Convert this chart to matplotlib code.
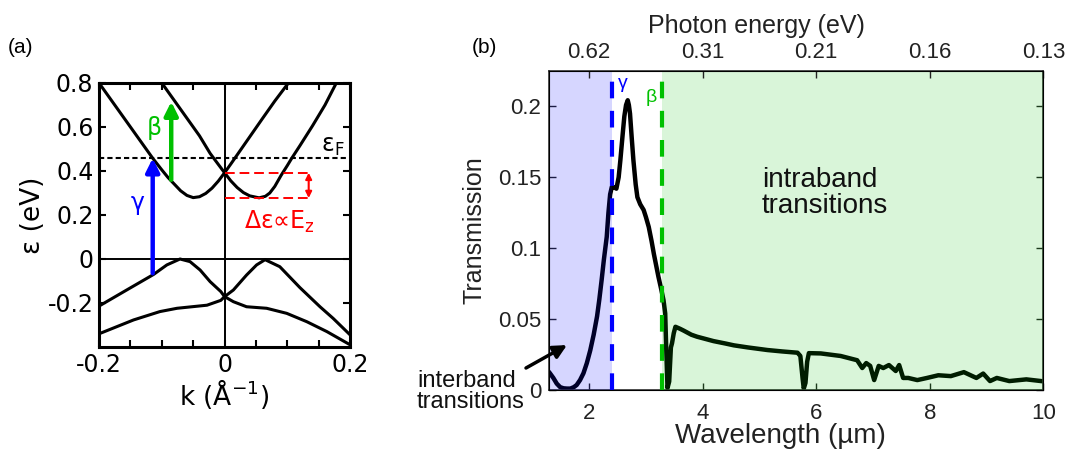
import matplotlib
matplotlib.use("Agg")
import matplotlib.pyplot as plt

plt.rcParams['mathtext.default'] = 'regular'

# ---- panel (a): bands (k in 1/A, energy in eV) ----
band1_k = [-0.2, -0.175, -0.15, -0.13, -0.1145, -0.1, -0.09, -0.08, -0.07, -0.06, -0.05,
           -0.04, -0.03, -0.02, -0.01, 0.0, 0.01, 0.02, 0.04, 0.06, 0.08, 0.1017]
band1_e = [0.80, 0.70, 0.60, 0.52, 0.458, 0.405, 0.37, 0.34, 0.31, 0.289, 0.279,
           0.283, 0.298, 0.322, 0.354, 0.392, 0.432, 0.473, 0.555, 0.637, 0.718, 0.80]

band2_k = [-0.1, -0.08, -0.06, -0.04, -0.023, -0.01, 0.0, 0.01, 0.02, 0.03, 0.04, 0.055,
           0.065, 0.072, 0.08, 0.09, 0.1, 0.107, 0.12, 0.14, 0.16, 0.178]
band2_e = [0.80, 0.72, 0.64, 0.56, 0.48, 0.43, 0.392, 0.355, 0.325, 0.302, 0.287, 0.278,
           0.285, 0.30, 0.33, 0.38, 0.425, 0.458, 0.515, 0.605, 0.70, 0.80]

# valence bands
val1_k = [-0.2, -0.156, -0.113, -0.092, -0.071, -0.055, -0.039, -0.023, -0.006, 0.0,
          0.014, 0.035, 0.067, 0.099, 0.131, 0.163, 0.2]
val1_e = [-0.214, -0.141, -0.07, -0.027, 0.0, -0.012, -0.05, -0.103, -0.148, -0.171,
          -0.194, -0.217, -0.224, -0.247, -0.285, -0.33, -0.39]
val2_k = [-0.2, -0.145, -0.103, -0.0757, -0.028, -0.006, 0.0, 0.014, 0.035, 0.051,
          0.0645, 0.088, 0.12, 0.152, 0.173, 0.2]
val2_e = [-0.34, -0.277, -0.239, -0.224, -0.21, -0.188, -0.171, -0.141, -0.073, -0.027,
          -0.003, -0.035, -0.13, -0.217, -0.27, -0.345]

fermi = 0.458
gamma_k, gamma_from, gamma_to = -0.1145, -0.065, 0.458
beta_k, beta_from, beta_to = -0.085, 0.36, 0.715
split_top, split_bot = 0.392, 0.277

# ---- panel (b): transmission spectrum ----
wavelength = [1.31, 1.37, 1.43, 1.49, 1.55, 1.61, 1.67, 1.73, 1.78, 1.84, 1.90, 1.96, 2.02,
              2.08, 2.14, 2.18, 2.22, 2.26, 2.31, 2.34, 2.37, 2.40, 2.44, 2.48, 2.52, 2.55,
              2.59, 2.62, 2.65, 2.68, 2.70, 2.72, 2.75, 2.78, 2.82, 2.85, 2.90, 2.96, 3.00,
              3.05, 3.10, 3.14, 3.18, 3.22, 3.27, 3.31, 3.34, 3.355, 3.38, 3.41, 3.44, 3.46,
              3.49, 3.52, 3.60, 3.66, 3.80, 3.90, 4.05, 4.19, 4.40, 4.55, 4.80, 5.14, 5.40,
              5.67, 5.72, 5.76, 5.78, 5.81, 5.84, 5.87, 6.08, 6.43, 6.72, 6.81, 6.88, 6.95,
              7.02, 7.10, 7.18, 7.28, 7.40, 7.46, 7.53, 7.62, 7.78, 7.95, 8.15, 8.37, 8.60,
              8.82, 8.94, 9.06, 9.18, 9.40, 9.70, 9.96]
transmission = [0.0118, 0.0085, 0.0045, 0.002, 0.0012, 0.001, 0.001, 0.002, 0.0035, 0.007,
                 0.0118, 0.019, 0.028, 0.039, 0.052, 0.064, 0.0775, 0.092, 0.108, 0.125,
                 0.138, 0.1433, 0.143, 0.142, 0.150, 0.162, 0.180, 0.193, 0.201, 0.2044,
                 0.201, 0.195, 0.178, 0.162, 0.145, 0.136, 0.131, 0.127, 0.122, 0.115, 0.105,
                 0.096, 0.088, 0.080, 0.071, 0.0634, 0.054, 0.033, 0.0014, 0.006, 0.030,
                 0.033, 0.040, 0.0446, 0.0432, 0.042, 0.039, 0.0376, 0.036, 0.0345, 0.0328,
                 0.0315, 0.030, 0.0282, 0.0272, 0.0263, 0.024, 0.008, 0.001, 0.005, 0.020,
                 0.026, 0.0258, 0.024, 0.021, 0.0155, 0.019, 0.017, 0.007, 0.017, 0.0155,
                 0.0176, 0.0134, 0.0176, 0.0085, 0.0085, 0.007, 0.0085, 0.0104, 0.0098,
                 0.0126, 0.0085, 0.0116, 0.0063, 0.0085, 0.0063, 0.0075, 0.0063]

gamma_wl = 2.40
beta_wl = 3.29
top_ticks = [2, 4, 6, 8, 10]
top_labels = ['0.62', '0.31', '0.21', '0.16', '0.13']

fig = plt.figure(figsize=(10.73, 4.57), dpi=100)

# ================= (a) =================
fa = 'DejaVu Sans'
axa = fig.add_axes([0.0923, 0.2407, 0.234, 0.5777])
for k, e in [(band1_k, band1_e), (band2_k, band2_e), (val1_k, val1_e), (val2_k, val2_e)]:
    axa.plot(k, e, color='black', lw=2.2, solid_capstyle='butt')
axa.axhline(0, color='black', lw=1.4)
axa.axvline(0, color='black', lw=1.4)
axa.axhline(fermi, color='black', lw=1.5, ls=(0, (2.5, 1.5)))

axa.annotate('', xy=(gamma_k, gamma_to), xytext=(gamma_k, gamma_from),
             arrowprops=dict(arrowstyle='-|>', color='#0000ff', lw=3.2,
                             mutation_scale=20, shrinkA=0, shrinkB=0))
axa.annotate('', xy=(beta_k, beta_to), xytext=(beta_k, beta_from),
             arrowprops=dict(arrowstyle='-|>', color='#00c000', lw=3.2,
                             mutation_scale=20, shrinkA=0, shrinkB=0))
axa.plot([0, 0.134], [split_top, split_top], color='red', lw=1.4, ls=(0, (5, 2.5)))
axa.plot([0, 0.134], [split_bot, split_bot], color='red', lw=1.4, ls=(0, (5, 2.5)))
axa.annotate('', xy=(0.134, split_bot), xytext=(0.134, split_top),
             arrowprops=dict(arrowstyle='<|-|>', color='red', lw=1.5,
                             mutation_scale=9, shrinkA=0, shrinkB=0))

axa.text(-0.138, 0.255, 'γ', color='#0000ff', fontsize=17, family=fa, ha='center', va='center')
axa.text(-0.112, 0.595, 'β', color='#00c000', fontsize=17, family=fa, ha='center', va='center')
axa.text(0.172, 0.515, 'ε$_F$', color='black', fontsize=17, family=fa, ha='center', va='center')
axa.text(0.087, 0.17, 'Δε∝E$_z$', color='red', fontsize=17, family=fa, ha='center', va='center')

axa.set_xlim(-0.2, 0.2)
axa.set_ylim(-0.4, 0.8)
xt = [-0.2, -0.15, -0.1, -0.05, 0, 0.05, 0.1, 0.15, 0.2]
axa.set_xticks(xt)
axa.set_xticklabels(['-0.2', '', '', '', '0', '', '', '', '0.2'])
axa.set_yticks([-0.2, 0, 0.2, 0.4, 0.6, 0.8])
axa.set_yticklabels(['-0.2', '0', '0.2', '0.4', '0.6', '0.8'])
axa.tick_params(direction='in', length=5, width=1.5, top=True, right=True,
                labelsize=17, pad=4)
axa.tick_params(axis='x', pad=4)
for lab in axa.get_xticklabels() + axa.get_yticklabels():
    lab.set_family(fa)
for s in axa.spines.values():
    s.set_linewidth(2.2)
axa.set_xlabel('k (Å$^{-1}$)', fontsize=19, family=fa, labelpad=0)
axa.set_ylabel('ε (eV)', fontsize=19, family=fa, labelpad=1)

# ================= (b) =================
fb = 'Liberation Sans'
axb = fig.add_axes([0.512, 0.1466, 0.4604, 0.698])
axb.plot(wavelength, transmission, color='black', lw=3.2, zorder=2)
axb.axvspan(1.3, gamma_wl, color='#0000ff', alpha=0.16, lw=0, zorder=3)
axb.axvspan(beta_wl, 10, color='#00c000', alpha=0.15, lw=0, zorder=3)
axb.axvline(gamma_wl, color='#0000ff', lw=3, ls=(0, (4, 3)), zorder=4)
axb.axvline(beta_wl, color='#00c000', lw=3, ls=(0, (4, 3)), zorder=4)
axb.text(2.59, 0.216, 'γ', color='#0000ff', fontsize=14, family=fb, ha='center', va='center')
axb.text(3.10, 0.206, 'β', color='#00c000', fontsize=14, family=fb, ha='center', va='center')

axb.set_xlim(1.3, 10)
axb.set_ylim(0, 0.225)
axb.set_xticks([2, 4, 6, 8, 10])
axb.set_yticks([0, 0.05, 0.1, 0.15, 0.2])
axb.set_yticklabels(['0', '0.05', '0.1', '0.15', '0.2'])
axb.tick_params(direction='in', length=5, width=1, right=True, labelsize=16,
                colors='#222222', pad=6)
axb.tick_params(axis='x', pad=9.5)
for lab in axb.get_xticklabels() + axb.get_yticklabels():
    lab.set_family(fb)
for s in axb.spines.values():
    s.set_linewidth(1.2)
    s.set_color('#333333')
axb.set_xlabel('Wavelength (µm)', fontsize=20, family=fb, color='#222222')
axb.xaxis.set_label_coords(0.467, -0.105)
axb.set_ylabel('Transmission', fontsize=18, family=fb, labelpad=8, color='#222222')

axt = axb.twiny()
axt.set_xlim(1.3, 10)
axt.set_xticks(top_ticks)
axt.set_xticklabels(top_labels)
axt.tick_params(direction='in', length=5, width=1, labelsize=16, colors='#222222', pad=6)
for lab in axt.get_xticklabels():
    lab.set_family(fb)
axt.set_xlabel('Photon energy (eV)', fontsize=18, family=fb, color='#222222')
axt.xaxis.set_label_coords(0.42, 1.118)

axb.annotate('', xy=(1.61, 0.0317), xytext=(526, 89), textcoords='figure pixels',
             arrowprops=dict(arrowstyle='-|>', color='black', lw=2.5,
                             mutation_scale=20, shrinkA=0, shrinkB=0),
             annotation_clip=False, zorder=5)
fig.text(417 / 1073, 0.19, 'interband\ntransitions', fontsize=17, family=fb,
         va='top', ha='left', linespacing=0.95, color='#111111')
fig.text(762 / 1073, 0.635, 'intraband\ntransitions', fontsize=20, family=fb,
         va='top', ha='left', linespacing=1.0, color='#111111')

fig.text(8 / 1073, 0.895, '(a)', fontsize=15, family=fb, va='center', ha='left')
fig.text(472 / 1073, 0.897, '(b)', fontsize=15, family=fb, va='center', ha='left')

fig.savefig('out.png', dpi=100)
